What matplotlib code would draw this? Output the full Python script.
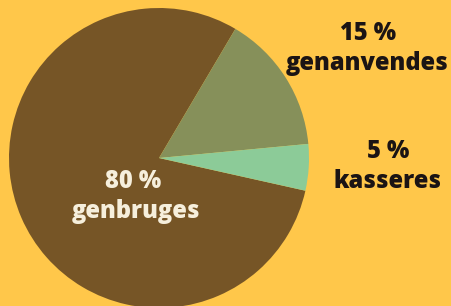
import matplotlib
matplotlib.use('Agg')
import matplotlib.pyplot as plt

# andele af tøj (procent)
labels = ['genbruges', 'genanvendes', 'kasseres']
shares = [80, 15, 5]
colors = ['#765526', '#86905a', '#8ccb98']
bg = '#ffc74a'

W, H = 452, 306
fig = plt.figure(figsize=(W / 100, H / 100), dpi=100, facecolor=bg)

# pie circle: centre (159, 158) px, radius 150 px
cx, cy, r = 159, 158, 150
ax = fig.add_axes([(cx - r) / W, (H - cy - r) / H, 2 * r / W, 2 * r / H])
ax.pie(shares, colors=colors, startangle=-12.6, counterclock=False,
       radius=1, wedgeprops=dict(linewidth=0))
ax.set_xlim(-1, 1)
ax.set_ylim(-1, 1)
ax.axis('off')


def px(x, y):
    return x / W, 1 - y / H


fnt = dict(family='Open Sans', weight=800, fontsize=17, ha='center', va='center')

fig.text(*px(133, 181), f'{shares[0]} %', color='#f6efdc', **fnt)
fig.text(*px(136, 212), labels[0], color='#f6efdc', **fnt)
fig.text(*px(368, 33), f'{shares[1]} %', color='#1b1414', **fnt)
fig.text(*px(367, 64), labels[1], color='#1b1414', **fnt)
fig.text(*px(388, 151), f'{shares[2]} %', color='#1b1414', **fnt)
fig.text(*px(388, 182), labels[2], color='#1b1414', **fnt)

fig.savefig('out.png', dpi=100, facecolor=bg)
